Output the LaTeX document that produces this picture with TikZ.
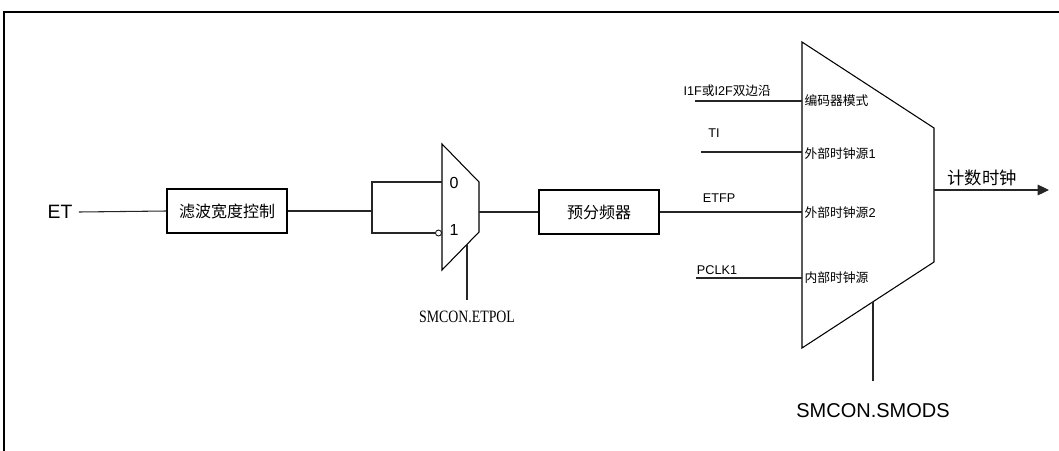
\documentclass[tikz,border=0pt]{standalone}
\usepackage{fontspec}
\setmainfont{Liberation Sans}
\newfontfamily\cjk{Noto Sans CJK SC}
\newfontfamily\serifn[FakeStretch=0.8]{Liberation Serif}
\usetikzlibrary{arrows.meta}
\begin{document}
\begin{tikzpicture}[x=0.75pt,y=-0.75pt,line width=0.8pt,
  wire/.style={draw=black!85,line width=0.8pt},
  blk/.style={draw,minimum width=90pt,minimum height=33pt,inner sep=0pt,font=\cjk\fontsize{12}{14}\selectfont},
  lbl/.style={inner sep=0pt},
  small/.style={lbl,font=\fontsize{9.5}{11}\selectfont},
  inlbl/.style={lbl,anchor=west,font=\cjk\fontsize{9.6}{11}\selectfont},
  muxshape/.style={draw,line width=0.8pt,line join=miter}]
\useasboundingbox (0,0) rectangle (1059,450);
% frame
\draw[line width=1.5pt] (3.5,451) -- (3.5,12) -- (1060,12);

% input and filter
\node[lbl,inner xsep=4.5pt,font=\fontsize{14.5}{16}\selectfont] (ET) at (60,212) {ET};
\node[blk] (filt) at (227,211) {滤波宽度控制};
\draw[wire] (ET.east) -- (filt.west);

% polarity mux
\coordinate (j) at (372,211);
\coordinate (m1a) at (442,144);
\coordinate (m1b) at (479,182);
\coordinate (m1c) at (479,232);
\coordinate (m1d) at (442,270);
\draw[muxshape] (m1a) -- (m1b) -- (m1c) -- (m1d) -- cycle;
\coordinate (m1in0) at (442,182);
\coordinate (m1out) at (479,212);
\coordinate (m1sel) at (467,244.3);
\node[circle,draw,minimum size=4.5pt,inner sep=0pt,line width=0.6pt,fill=white] (inv) at (438.5,233) {};
\draw[wire] (filt.east) -- (j);
\draw[wire] (j) |- (m1in0);
\draw[wire] (j) |- (inv.west);
\node[lbl,font=\fontsize{12}{14}\selectfont] (zero) at (454,183) {0};
\node[lbl,font=\fontsize{12}{14}\selectfont] (one) at (454,230) {1};
\node[anchor=north,inner xsep=0pt,inner ysep=7.5pt,font=\serifn\fontsize{13}{15}\selectfont] (etpol) at (467,300) {SMCON.ETPOL};
\draw[wire] (m1sel) -- (etpol.north);

% prescaler
\node[blk] (pre) at (599,212) {预分频器};
\draw[wire] (m1out) -- (pre.west);

% main mux
\coordinate (m2a) at (802,42);
\coordinate (m2b) at (934,128);
\coordinate (m2c) at (934,262);
\coordinate (m2d) at (802,348);
\draw[muxshape] (m2a) -- (m2b) -- (m2c) -- (m2d) -- cycle;

\coordinate (in1s) at (695,101);  \coordinate (in1e) at (802,101);
\coordinate (in2s) at (701,152);  \coordinate (in2e) at (802,152);
\coordinate (in3e) at (802,212);
\coordinate (in4s) at (696,278);  \coordinate (in4e) at (802,278);
\draw[wire] (in1s) -- (in1e);
\draw[wire] (in2s) -- (in2e);
\draw[wire] (pre.east) -- (in3e);
\draw[wire] (in4s) -- (in4e);

\node[small,anchor=west] (l1) at (683,91) {I1F{\cjk 或}I2F{\cjk 双边沿}};
\node[small] (l2) at (714,133) {TI};
\node[small] (l3) at (719,198) {ETFP};
\node[small] (l4) at (717,270) {PCLK1};

\node[inlbl] (s1) at (804,101) {编码器模式};
\node[inlbl] (s2) at (804,154) {外部时钟源\fontspec{Liberation Sans}1};
\node[inlbl] (s3) at (804,213) {外部时钟源\fontspec{Liberation Sans}2};
\node[inlbl] (s4) at (804,278) {内部时钟源};

\coordinate (m2sel) at (873,301.7);
\coordinate (m2selEnd) at (873,381);
\draw[wire] (m2sel) -- (m2selEnd);
\node[lbl,font=\fontsize{15}{17}\selectfont] (smods) at (873,411) {SMCON.SMODS};

% output
\coordinate (m2out) at (934,190);
\coordinate (cnt) at (1049,190);
\draw[wire,-{Triangle[length=8.5pt,width=8pt]}] (m2out) -- (cnt);
\node[lbl,font=\cjk\fontsize{13}{15}\selectfont] (cntl) at (982,178) {计数时钟};
\end{tikzpicture}
\end{document}
